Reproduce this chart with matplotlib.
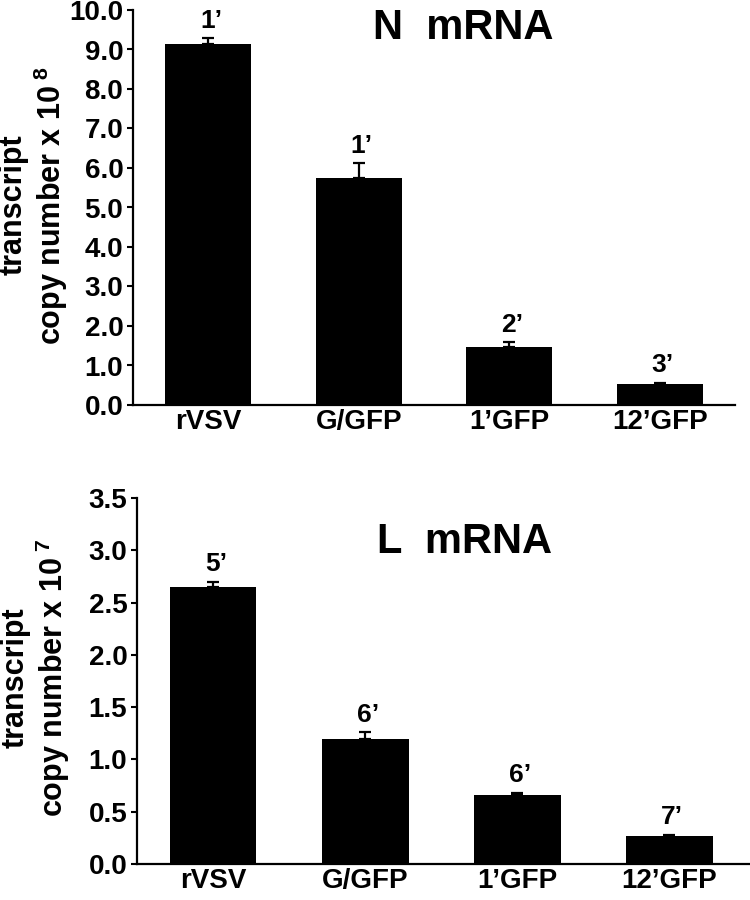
import numpy as np
import matplotlib
matplotlib.use('Agg')
import matplotlib.pyplot as plt
from matplotlib.ticker import FormatStrFormatter

plt.rcParams['font.family'] = ['Liberation Sans', 'DejaVu Sans']
plt.rcParams['font.weight'] = 'bold'
plt.rcParams['mathtext.fontset'] = 'custom'
plt.rcParams['mathtext.rm'] = 'Liberation Sans:bold'
plt.rcParams['mathtext.it'] = 'Liberation Sans:bold'
plt.rcParams['mathtext.bf'] = 'Liberation Sans:bold'

# data
strains = ['rVSV', 'G/GFP', '1\u2019GFP', '12\u2019GFP']

n_mrna = [9.13, 5.75, 1.48, 0.52]
n_err = [0.15, 0.37, 0.11, 0.04]
n_marks = ['1\u2019', '1\u2019', '2\u2019', '3\u2019']

l_mrna = [2.65, 1.20, 0.66, 0.27]
l_err = [0.05, 0.06, 0.02, 0.01]
l_marks = ['5\u2019', '6\u2019', '6\u2019', '7\u2019']

fig = plt.figure(figsize=(7.5, 9), dpi=100)
ax_n = fig.add_axes([133 / 750, 1 - 405 / 900, 602 / 750, 395 / 900])
ax_l = fig.add_axes([137 / 750, 1 - 864 / 900, 613 / 750, 366 / 900])


def draw_panel(ax, vals, errs, marks, ymax, ystep, title, title_xy):
    x = np.arange(len(strains))
    ax.bar(x, vals, width=0.57, color='black', zorder=2)
    ax.errorbar(x, vals, yerr=[np.zeros(len(vals)), errs], fmt='none',
                ecolor='black', elinewidth=1.6, capsize=4, capthick=1.6, zorder=3)
    for xi, v, e, m in zip(x, vals, errs, marks):
        ax.annotate(m, (xi, v + e), xytext=(2, 4), textcoords='offset points',
                    ha='center', va='bottom', fontsize=19, fontweight='bold')
    ax.set_ylim(0, ymax)
    ax.set_yticks(np.arange(0, ymax + ystep / 2, ystep))
    ax.yaxis.set_major_formatter(FormatStrFormatter('%.1f'))
    ax.set_xticks(x)
    ax.set_xticklabels(strains)
    ax.tick_params(axis='x', length=0, pad=3, labelsize=20)
    ax.tick_params(axis='y', length=4, width=1.5, pad=3, labelsize=20)
    for s in ['top', 'right']:
        ax.spines[s].set_visible(False)
    for s in ['left', 'bottom']:
        ax.spines[s].set_linewidth(1.6)
    ax.text(title_xy[0], title_xy[1], title, transform=ax.transAxes,
            ha='center', va='top', fontsize=30, fontweight='bold')
    return ax


draw_panel(ax_n, n_mrna, n_err, n_marks, 10.0, 1.0, 'N  mRNA', (0.548, 1.005))
ax_n.set_xlim(-0.5, 3.5)
draw_panel(ax_l, l_mrna, l_err, l_marks, 3.5, 0.5, 'L  mRNA', (0.535, 0.935))
ax_l.set_xlim(-0.5, 3.53)

fig.text(34 / 750, 1 - 205 / 900, 'transcript\ncopy number x 10$^{\\ 8}$',
         rotation=90, ha='center', va='center', fontsize=22, fontweight='bold',
         linespacing=1.1)
fig.text(36 / 750, 1 - 678 / 900, 'transcript\ncopy number x 10$^{\\ 7}$',
         rotation=90, ha='center', va='center', fontsize=22, fontweight='bold',
         linespacing=1.1)

fig.savefig('out.png', dpi=100)
